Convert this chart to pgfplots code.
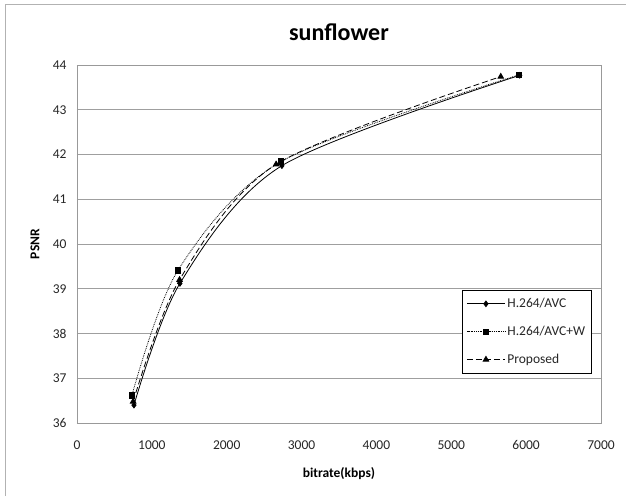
\documentclass[border=0pt]{standalone}
\usepackage{pgfplots}
\pgfplotsset{compat=1.18}
\usepackage{fontspec}
\setmainfont{Carlito}
\begin{document}
\begin{tikzpicture}
\useasboundingbox (0pt,0pt) rectangle (626pt,496pt);
\draw[gray!60, line width=1pt] (5pt,0pt) -- (5pt,491pt) -- (626pt,491pt);
\coordinate (A) at (77pt,73pt);
\begin{axis}[
  at={(A)}, anchor=south west,
  scale only axis, width=524pt, height=358pt,
  xmin=0, xmax=7000, ymin=36, ymax=44,
  xtick={0,1000,...,7000}, ytick={36,37,...,44},
  scaled x ticks=false,
  /pgf/number format/assume math mode=true,
  /pgf/number format/1000 sep={},
  major tick length=0pt,
  ymajorgrids, grid style={gray!75, line width=0.8pt},
  axis line style={gray!80, line width=0.8pt},
  tick label style={font=\fontsize{13.5}{14}\selectfont, text=black!85},
  xticklabel style={yshift=-14pt},
  yticklabel style={xshift=-7pt},
  title={\fontsize{24}{26}\selectfont\bfseries sunflower},
  title style={at={(axis description cs:0.5,1)}, anchor=center, yshift=27pt},
  xlabel={bitrate(kbps)},
  xlabel style={font=\fontsize{13.5}{14}\selectfont\bfseries, at={(axis description cs:0.5,0)}, anchor=center, yshift=-51pt},
  ylabel={PSNR},
  ylabel style={font=\fontsize{13.5}{14}\selectfont\bfseries, at={(axis description cs:0,0.5)}, anchor=center, yshift=42pt},
  legend cell align=left,
  legend style={at={(rel axis cs:0.735,0.3715)}, anchor=north west, draw=black, line width=0.8pt,
    font=\fontsize{13.5}{14}\selectfont, row sep=13pt, inner xsep=4pt, inner ysep=6pt,
    nodes={text=black!85}},
  legend image code/.code={\draw[mark repeat=2,mark phase=2] plot coordinates {(0pt,0pt) (19pt,0pt) (38pt,0pt)};},
]
\addplot[black, line width=0.8pt, smooth, solid, mark=diamond*, mark size=2.8pt, mark options={solid, fill=black}] coordinates {
(761,36.40) (1375,39.12) (2737,41.75) (5915,43.77)};
\addlegendentry{H.264/AVC}
\addplot[black, line width=0.8pt, smooth, densely dotted, mark=square*, mark size=2.8pt, mark options={solid, fill=black}] coordinates {
(734,36.62) (1348,39.41) (2724,41.84) (5905,43.78)};
\addlegendentry{H.264/AVC+W}
\addplot[black, line width=0.8pt, smooth, dash pattern=on 6pt off 3pt, mark=triangle*, mark size=3.2pt, mark options={solid, fill=black}] coordinates {
(750,36.48) (1370,39.20) (2660,41.78) (5661,43.74)};
\addlegendentry{Proposed}
\end{axis}
\end{tikzpicture}
\end{document}
